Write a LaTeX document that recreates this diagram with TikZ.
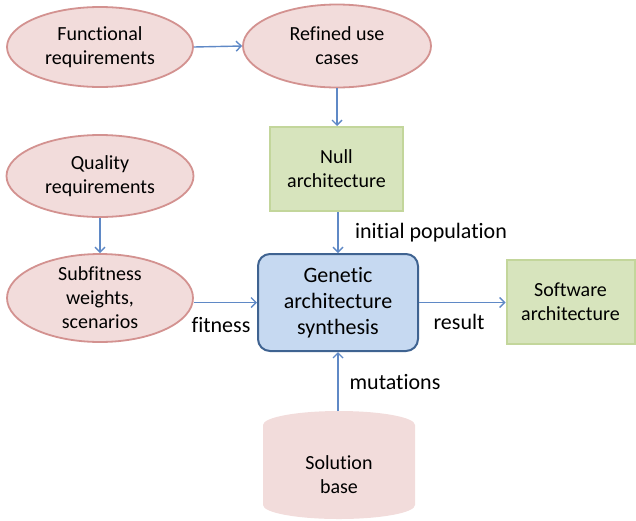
\documentclass[tikz,border=0pt]{standalone}
\usepackage{fontspec}
\setmainfont{Carlito}[Ligatures=NoCommon]
\usetikzlibrary{shapes.geometric,arrows.meta}
\definecolor{pinkfill}{HTML}{F2DCDB}
\definecolor{pinkline}{HTML}{D39290}
\definecolor{greenfill}{HTML}{D7E4BD}
\definecolor{greenline}{HTML}{C3D69B}
\definecolor{bluefill}{HTML}{C6D9F1}
\definecolor{blueline}{HTML}{3F6391}
\definecolor{arrowc}{HTML}{5F89C6}
\tikzset{
  ell/.style={ellipse, draw=pinkline, fill=pinkfill, line width=1.8pt, inner sep=0pt,
    minimum width=186pt, minimum height=80pt, align=center,
    font=\fontsize{20}{24}\selectfont},
  gbox/.style={rectangle, draw=greenline, fill=greenfill, line width=2pt, inner sep=0pt,
    align=center, font=\fontsize{20}{24}\selectfont},
  core/.style={rectangle, rounded corners=12pt, draw=blueline, fill=bluefill, line width=2pt,
    inner sep=0pt, minimum width=160pt, minimum height=97pt, align=center,
    font=\fontsize{22}{26}\selectfont},
  lbl/.style={inner sep=0pt, font=\fontsize{22}{26}\selectfont},
  conn/.style={draw=arrowc, line width=1.4pt, -{Straight Barb[length=5pt,width=10pt,line width=1.4pt]}},
}
\begin{document}
\begin{tikzpicture}[x=1pt,y=-1pt]
\useasboundingbox (0,0) rectangle (636,520);
\node[ell] (fr) at (100,47) {Functional\\requirements};
\node[ell, minimum width=188pt, minimum height=83pt] (ruc) at (337,46) {Refined use\\cases};
\node[ell, minimum width=187pt, minimum height=82pt] (qr) at (100,176) {Quality\\requirements};
\node[ell, minimum width=186pt, minimum height=88pt] (sw) at (100,298) {Subfitness\\weights,\\scenarios};
\node[gbox, minimum width=133pt, minimum height=84pt] (null) at (336.5,169) {Null\\architecture};
\node[core] (gas) at (338,302.5) {Genetic\\architecture\\synthesis};
\node[gbox, minimum width=128pt, minimum height=84pt] (soft) at (570.5,302) {Software\\architecture};
% cylinder
\fill[pinkfill] (263,425) -- (263,505) arc (180:0:76 and 14) -- (415,425) arc (0:-180:76 and 14) -- cycle;
\coordinate (sbtop) at (338,411);
\node[align=center, font=\fontsize{20}{24}\selectfont, inner sep=0pt] (sb) at (339,475) {Solution\\base};
% connectors
\draw[conn] (fr.east) -- (ruc.west);
\draw[conn] (ruc.south) -- (null.north -| ruc.south);
\draw[conn] (qr.south) -- (sw.north);
\draw[conn] (null.south -| gas.north) -- (gas.north);
\draw[conn] (sw.east |- gas.west) -- (gas.west);
\draw[conn] (gas.east) -- (soft.west |- gas.east);
\draw[conn] (sbtop) -- (gas.south);
% labels
\node[lbl] (lip) at (431,233) {initial population};
\node[lbl] (lfit) at (221,325) {fitness};
\node[lbl] (lres) at (459,322) {result};
\node[lbl] (lmut) at (395,382) {mutations};
\end{tikzpicture}
\end{document}
